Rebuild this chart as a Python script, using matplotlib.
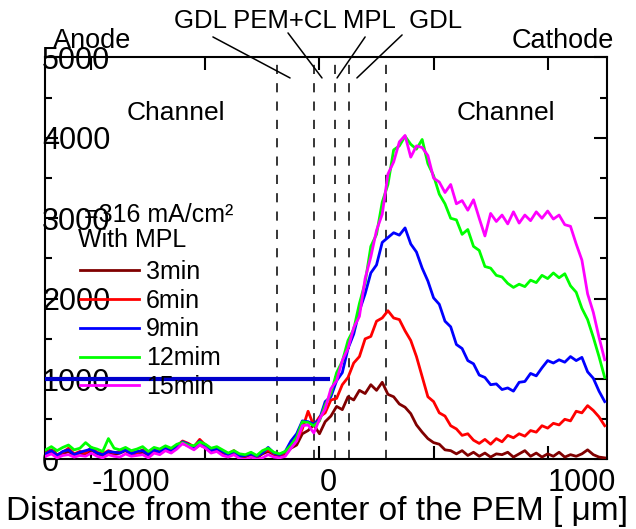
import matplotlib
matplotlib.use('Agg')
import matplotlib.pyplot as plt
import numpy as np

plt.rcParams['font.family'] = ['Liberation Sans', 'DejaVu Sans']

# position across the cell [um], sampled every 25 um
x_um = np.arange(-1200, 1251, 25)

# intensity, one list per time
t3 = [60, 90, 40, 70, 100, 50, 80, 60, 120, 70, 50, 90, 60, 80, 110, 60, 70, 90, 50, 100, 80,
      120, 90, 150, 200, 170, 130, 180, 150, 100, 120, 80, 60, 90, 40, 30, 60, 20, 70, 100, 60, 40,
      60, 140, 180, 320, 360, 430, 320, 470, 540, 660, 620, 780, 740, 860, 820, 930, 860, 960,
      810, 780, 690, 650, 570, 430, 340, 260, 210, 190, 120, 110, 70, 110, 50, 90, 40, 80, 30, 70,
      60, 90, 30, 70, 110, 40, 80, 30, 70, 40, 90, 30, 60, 40, 70, 120, 60, 30, 20]
t6 = [80, 120, 60, 90, 140, 70, 100, 80, 150, 90, 70, 110, 80, 100, 130, 90, 80, 120, 70, 130, 100,
      150, 110, 170, 230, 200, 160, 250, 180, 120, 140, 90, 70, 110, 50, 40, 80, 30, 90, 120, 70, 60,
      80, 170, 230, 380, 600, 420, 530, 580, 740, 760, 930, 1020, 1200, 1280, 1500, 1530, 1720, 1760,
      1850, 1760, 1740, 1600, 1480, 1280, 1030, 780, 720, 580, 540, 420, 380, 300, 320, 240, 200, 250,
      190, 260, 220, 300, 270, 320, 290, 360, 340, 420, 390, 450, 430, 500, 480, 600, 580, 670, 610,
      530, 420]
t9 = [70, 110, 50, 100, 120, 60, 90, 110, 130, 80, 60, 100, 90, 80, 120, 70, 100, 110, 60, 120, 90,
      140, 100, 160, 220, 190, 150, 230, 170, 110, 130, 100, 60, 100, 40, 50, 70, 40, 80, 150, 80, 60,
      100, 230, 320, 480, 470, 440, 500, 720, 780, 980, 1080, 1380, 1560, 1850, 2060, 2320, 2420, 2700,
      2760, 2820, 2790, 2880, 2680, 2580, 2380, 2220, 2010, 1930, 1720, 1650, 1430, 1380, 1230, 1190,
      1050, 1020, 930, 940, 870, 890, 850, 960, 970, 1070, 1040, 1140, 1230, 1200, 1240, 1210, 1280,
      1230, 1270, 1090, 1010, 850, 720]
t12 = [120, 160, 110, 150, 180, 120, 140, 210, 150, 130, 100, 260, 140, 120, 150, 110, 130, 160, 100,
       150, 130, 170, 140, 190, 210, 180, 170, 220, 190, 140, 160, 120, 80, 110, 70, 60, 90, 50, 110,
       140, 90, 70,
       100, 180, 280, 470, 460, 420, 480, 680, 820, 1080, 1220, 1480, 1620, 1940, 2200, 2650, 2800, 3200,
       3420, 3850, 3900, 4020, 3920, 3860, 3980, 3680, 3530, 3300, 3180, 3000, 2980, 2800, 2860, 2650,
       2600, 2400, 2380, 2290, 2270, 2190, 2140, 2180, 2150, 2230, 2200, 2290, 2250, 2320, 2260, 2310,
       2160, 2080, 1880, 1740, 1520, 1280, 1020]
t15 = [40, 70, 20, 50, 60, 30, 50, 40, 80, 40, 20, 60, 40, 30, 70, 40, 50, 60, 20, 80, 60, 110, 80,
       130, 200, 160, 120, 180, 140, 80, 100, 50, 30, 60, 10, 0, 30, 0, 20, 60, 30, 20,
       40, 140, 230, 420, 430, 330, 500, 630, 880, 980, 1230, 1380, 1640, 1780, 2250, 2520, 2850, 3050,
       3550, 3700, 3950, 4030, 3760, 3900, 3880, 3780, 3500, 3450, 3320, 3420, 3180, 3220, 3100, 3230,
       3000, 2780, 3060, 2960, 3040, 2930, 3080, 2940, 3040, 2970, 3080, 3000, 3090, 2990, 3040, 2920,
       2900, 2680, 2480, 2060, 1830, 1520, 1240]

series = [t3, t6, t9, t12, t15]
labels = ['3min', '6min', '9min', '12mim', '15min']
colors = ['#800000', '#ff0000', '#0000ff', '#00ff00', '#ff00ff']

# layer boundaries (GDL | PEM+CL | MPL | GDL) [um]
boundaries = [-188, -22, 66, 131, 293]

# stray horizontal line in the original figure
hline_y = 1000
hline_x = [-1205, 44]

fig = plt.figure(figsize=(6.36, 5.29), dpi=100)
ax = fig.add_axes([0.0700, 0.1314, 0.8844, 0.760])

for v in boundaries:
    ax.axvline(v, color='black', lw=1.1, ls=(0, (6, 6)), zorder=1)

ax.hlines(hline_y, hline_x[0], hline_x[1], color='#0000cc', lw=3, zorder=4)

for ys, lab, c in zip(series, labels, colors):
    ax.plot(x_um, ys, color=c, lw=2.0, label=lab, zorder=3)

ax.set_xlim(-1205, 1260)
ax.set_ylim(0, 5000)

ax.set_xticks([-1000, -500, 0, 500, 1000])
ax.set_xticklabels(['-1000', '', '0', '', '1000'], ha='left')
ax.set_yticks([0, 1000, 2000, 3000, 4000, 5000])
ax.set_yticklabels(['0', '1000', '2000', '3000', '4000', '5000'], ha='left')
ax.set_yticks([500, 1500, 2500, 3500, 4500], minor=True)
ax.tick_params(which='both', direction='in', top=True, right=True, width=1.5, labelsize=22)
ax.tick_params(which='major', length=9.5)
ax.tick_params(which='minor', length=5)
ax.tick_params(axis='y', pad=1.8)
ax.tick_params(axis='x', pad=6)
for s in ax.spines.values():
    s.set_linewidth(1.5)

fig.text(317.5/636, 9/529, 'Distance from the center of the PEM [ \u03bcm]',
         fontsize=24, ha='center', va='baseline')

# labels above and inside the axes
fig.text(318/636, 1 - 21/529, 'GDL PEM+CL MPL  GDL', fontsize=18.5, ha='center', va='center')
fig.text(53/636, 1 - 41/529, 'Anode', fontsize=19.5, ha='left', va='center')
fig.text(614/636, 1 - 41/529, 'Cathode', fontsize=19.5, ha='right', va='center')
fig.text(127/636, 1 - 113/529, 'Channel', fontsize=19, ha='left', va='center')
fig.text(457/636, 1 - 113/529, 'Channel', fontsize=19, ha='left', va='center')

# leader lines from layer names down to the dashed boundaries
lead = dict(arrowstyle='-', color='black', lw=1.1, shrinkA=0, shrinkB=0)
ax.annotate('', xy=(-129, 4745), xytext=(-467, 5255), arrowprops=lead, annotation_clip=False)
ax.annotate('', xy=(11, 4745), xytext=(-138, 5305), arrowprops=lead, annotation_clip=False)
ax.annotate('', xy=(77, 4745), xytext=(200, 5255), arrowprops=lead, annotation_clip=False)
ax.annotate('', xy=(164, 4745), xytext=(362, 5280), arrowprops=lead, annotation_clip=False)

fig.text(84/636, 1 - 222/529, '=316 mA/cm\u00b2', fontsize=18, ha='left', va='baseline')
fig.text(78/636, 1 - 247/529, 'With MPL', fontsize=18, ha='left', va='baseline')

leg = ax.legend(loc='upper left', bbox_to_anchor=(80/636, 1 - 260/529),
                bbox_transform=fig.transFigure, frameon=False, fontsize=18,
                borderpad=0, borderaxespad=0, handlelength=2.36, handletextpad=0.28,
                labelspacing=0.19)

plt.savefig('out.png', dpi=100)
